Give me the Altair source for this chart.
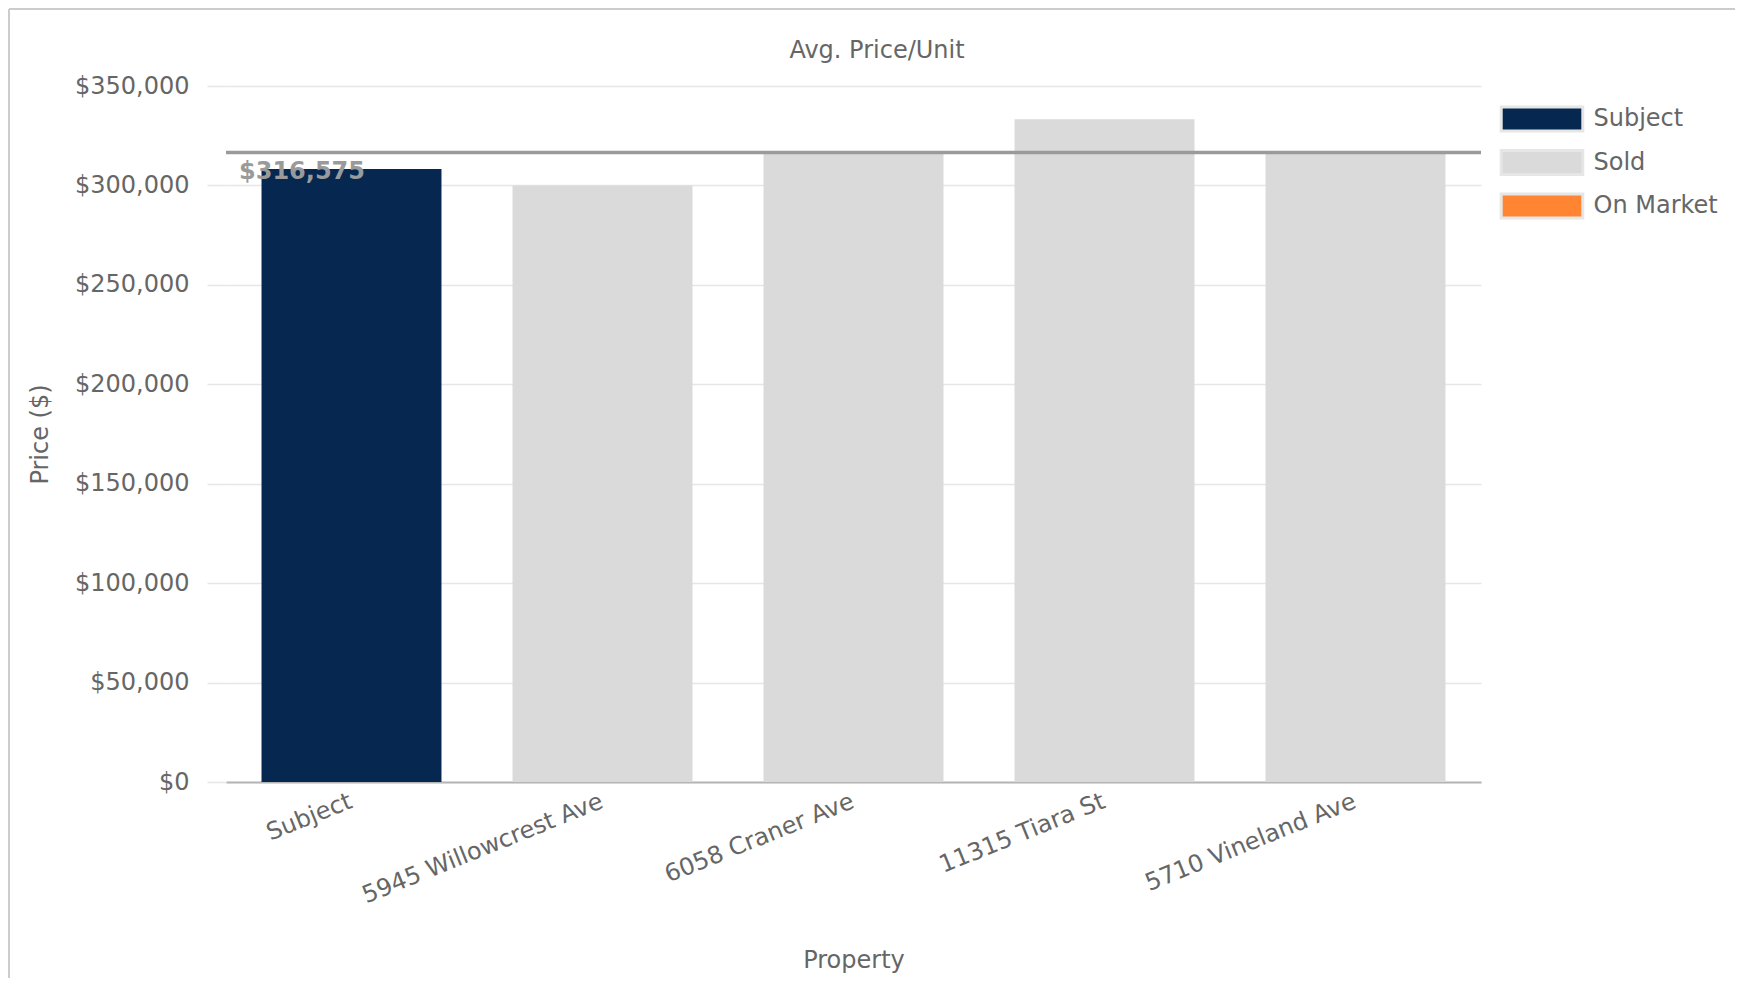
import altair as alt
import pandas as pd

properties = ["Subject", "5945 Willowcrest Ave", "6058 Craner Ave", "11315 Tiara St", "5710 Vineland Ave"]
prices = [308250, 300000, 316500, 333300, 316500]
statuses = ["Subject", "Sold", "Sold", "Sold", "Sold"]
avg_price = [316575]
legend_domain = ["Subject", "Sold", "On Market"]
legend_colors = ["#062850", "#d9dad9", "#ff8533"]
y_ticks = [0, 50000, 100000, 150000, 200000, 250000, 300000, 350000]
chart_title = ["Avg. Price/Unit"]

df = pd.DataFrame({"property": properties, "price": prices, "status": statuses})
avg_df = pd.DataFrame({"avg": avg_price})
title_df = pd.DataFrame({"t": chart_title})

FONT = "DejaVu Sans"
TXT = "#666666"
FS = 24

bars = alt.Chart(df).mark_bar().encode(
    x=alt.X("property:N", sort=properties, title="Property",
            scale=alt.Scale(paddingInner=0.283, paddingOuter=0.1415),
            axis=alt.Axis(labelAngle=-22, labelAlign="right", labelBaseline="top",
                          labelPadding=7, labelOffset=-5, labelLimit=0, ticks=False,
                          domainColor="#b5b5b5", domainWidth=2,
                          labelFontSize=FS, labelColor=TXT, titleFontSize=FS,
                          titleColor=TXT, titleFontWeight="normal",
                          titleY=178, titleBaseline="middle")),
    y=alt.Y("price:Q", title="Price ($)",
            scale=alt.Scale(domain=[0, 350000], nice=False),
            axis=alt.Axis(values=y_ticks, format="$,.0f", domain=False,
                          tickSize=19, tickColor="#e6e6e6", tickWidth=1.5,
                          gridColor="#e6e6e6", gridWidth=1.5,
                          labelPadding=18, labelFontSize=FS, labelColor=TXT,
                          titleFontSize=FS, titleColor=TXT, titleFontWeight="normal",
                          titleX=-186, titleY=348, titleAngle=270,
                          titleAlign="center", titleBaseline="middle")),
    color=alt.Color("status:N",
                    scale=alt.Scale(domain=legend_domain, range=legend_colors),
                    legend=alt.Legend(title=None, orient="none", legendX=1302.5, legendY=19.5,
                                      symbolType="M-3.4,-1H3.4V1H-3.4Z",
                                      symbolSize=576, symbolStrokeColor="#e6e6e6",
                                      symbolStrokeWidth=3, symbolOpacity=1,
                                      labelFontSize=FS, labelColor=TXT,
                                      labelOffset=38, rowPadding=6.5)),
)

avg_rule = alt.Chart(avg_df).mark_rule(color="#9a9a9a", strokeWidth=3.5).encode(
    y=alt.Y("avg:Q")
)

avg_label = alt.Chart(avg_df).mark_text(
    align="left", baseline="top", dy=8, fontSize=FS, fontWeight="bold", color="#9a9a9a"
).encode(
    x=alt.value(13),
    y=alt.Y("avg:Q"),
    text=alt.Text("avg:Q", format="$,.0f"),
)

title_text = alt.Chart(title_df).mark_text(
    align="center", baseline="middle", fontSize=FS, color=TXT
).encode(
    x=alt.value(651), y=alt.value(-35), text="t:N"
)

border_left = alt.Chart(avg_df).mark_rule(color="#cccccc", strokeWidth=2).encode(
    x=alt.value(-217), y=alt.value(-77), y2=alt.value(900)
)
border_top = alt.Chart(avg_df).mark_rule(color="#cccccc", strokeWidth=2).encode(
    x=alt.value(-217), x2=alt.value(1530), y=alt.value(-77)
)

chart = alt.layer(border_left, border_top, bars, avg_rule, avg_label, title_text).properties(
    width=1255, height=696,
    autosize=alt.AutoSizeParams(type="none"),
    padding={"left": 218, "top": 78, "right": 254, "bottom": 196},
).configure(font=FONT).configure_view(stroke=None)

chart.save("out.html", embed_options={"renderer": "svg", "actions": False})
